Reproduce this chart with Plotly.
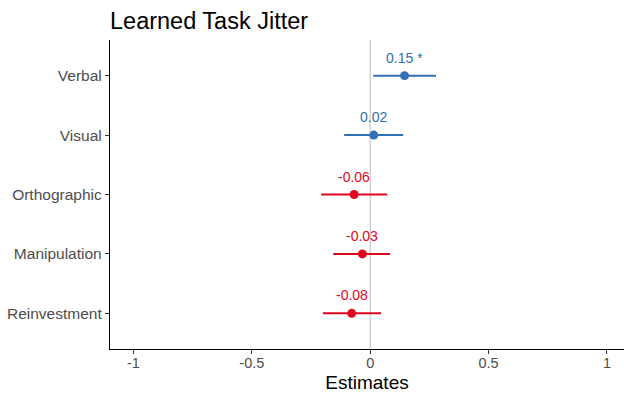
import plotly.graph_objects as go

terms = ["Verbal", "Visual", "Orthographic", "Manipulation", "Reinvestment"]
estimates = [0.145, 0.015, -0.068, -0.033, -0.078]
ci_low = [0.013, -0.110, -0.207, -0.156, -0.200]
ci_high = [0.278, 0.139, 0.072, 0.084, 0.046]
labels = ["0.15 *", "0.02", "-0.06", "-0.03", "-0.08"]
tick_vals = [-1, -0.5, 0, 0.5, 1]
tick_text = ["-1", "-0.5", "0", "0.5", "1"]

BLUE = "#3270B5"
RED = "#E0061E"
colors = [BLUE if e > 0 else RED for e in estimates]
ypos = [len(terms) - i for i in range(len(terms))]

fig = go.Figure()
fig.add_shape(type="line", x0=0, x1=0, y0=0, y1=1, yref="paper", xref="x",
              line=dict(color="#C8C8C8", width=1.2), layer="below")
for t, e, lo, hi, c, y, lab in zip(terms, estimates, ci_low, ci_high, colors, ypos, labels):
    fig.add_trace(go.Scatter(
        x=[e], y=[y], mode="markers",
        marker=dict(color=c, size=9),
        error_x=dict(type="data", symmetric=False, array=[hi - e], arrayminus=[e - lo],
                     color=c, thickness=2, width=0),
        showlegend=False, hoverinfo="skip"))
    fig.add_annotation(x=e, y=y, text=lab, showarrow=False, yshift=18,
                       font=dict(color=c, size=14, family="Liberation Sans, Arial"))

fig.update_layout(
    width=624, height=394,
    margin=dict(l=110, r=0, t=40, b=45),
    paper_bgcolor="white", plot_bgcolor="white",
    font=dict(family="Liberation Sans, Arial", color="#4D4D4D"),
    title=dict(text="Learned Task Jitter", x=0, xref="paper", xanchor="left",
               y=0.948, yref="container", yanchor="middle",
               font=dict(size=23.5, color="black")),
    xaxis=dict(range=[-1.099, 1.072], tickvals=tick_vals, ticktext=tick_text,
               showgrid=False, zeroline=False, showline=True, linecolor="black",
               linewidth=1.3, ticks="outside", ticklen=4, tickcolor="#333333",
               ticklabelstandoff=-4,
               tickfont=dict(size=14.5, color="#4D4D4D"),
               title=dict(text="Estimates", font=dict(size=19, color="black"), standoff=6)),
    yaxis=dict(range=[0.4, 5.6], tickvals=ypos, ticktext=terms,
               showgrid=False, zeroline=False, showline=True, linecolor="black",
               linewidth=1.3, ticks="outside", ticklen=4, tickcolor="#333333",
               tickfont=dict(size=15.5, color="#4D4D4D")),
)
fig.write_html("out.html")
